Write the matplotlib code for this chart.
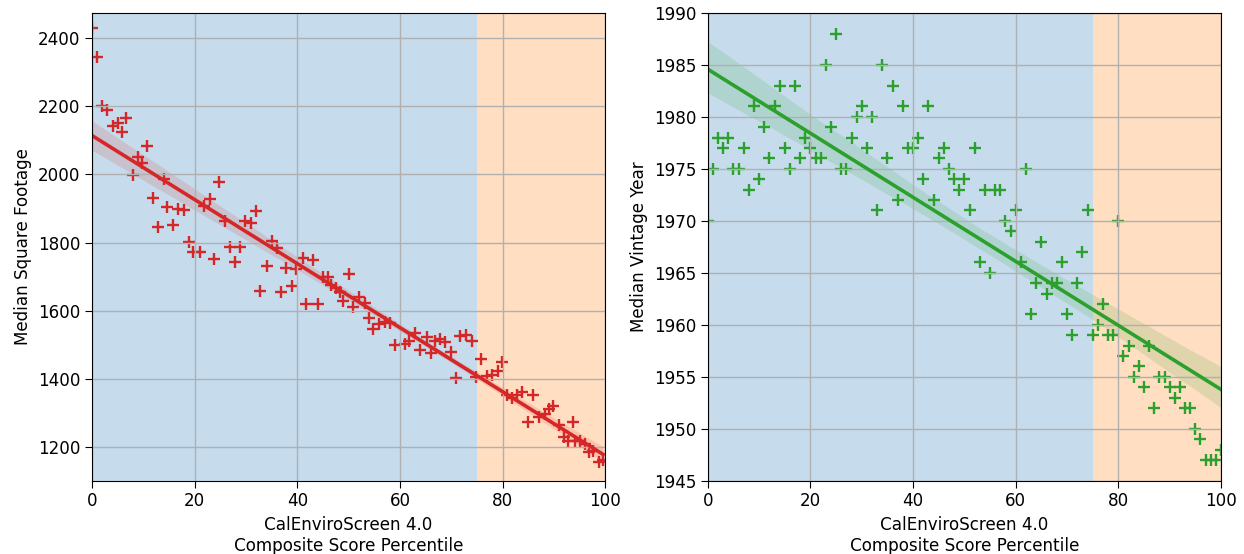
import matplotlib
matplotlib.use("Agg")
import matplotlib.pyplot as plt
import seaborn as sns
import pandas as pd

# --- Data ---
# Left panel: CES percentile vs median square footage
sqft_pct = [0, 1, 1.9, 2.9, 4.0, 5.1, 5.9, 6.7, 7.9, 8.9, 9.7, 10.8, 11.9, 12.9, 14.0, 14.7,
            15.8, 16.8, 18.0, 18.9, 19.6, 21.1, 21.9, 22.9, 23.8, 24.8, 26.0, 26.9, 27.9, 28.8,
            29.9, 31.0, 31.9, 32.7, 34.0, 35.0, 36.0, 36.8, 37.8, 38.9, 39.7, 41.1, 41.7, 43.0,
            44.0, 45.1, 45.9, 46.6, 47.6, 48.4, 49.0, 50.0, 50.9, 52.0, 53.2, 53.9, 54.8, 56.0,
            57.1, 58.1, 59.1, 60.9, 61.7, 62.9, 63.9, 65.2, 66.1, 66.9, 67.8, 68.8, 70.0, 70.9,
            71.7, 72.8, 74.0, 74.9, 75.8, 76.9, 78.0, 79.1, 79.9, 80.8, 81.9, 82.8, 83.7, 84.9,
            85.9, 87.1, 88.3, 89.1, 89.9, 90.9, 91.9, 92.8, 93.8, 94.2, 95.1, 96.1, 96.8, 97.7,
            98.7, 99.6]
sqft = [2429, 2346, 2201, 2189, 2141, 2151, 2125, 2167, 1998, 2052, 2034, 2084, 1930, 1847, 1988, 1903,
        1851, 1900, 1895, 1801, 1771, 1772, 1908, 1928, 1752, 1979, 1864, 1788, 1744, 1788,
        1862, 1858, 1894, 1659, 1730, 1805, 1783, 1654, 1725, 1673, 1721, 1754, 1619, 1748,
        1619, 1700, 1700, 1675, 1666, 1655, 1629, 1708, 1610, 1639, 1621, 1577, 1547, 1562,
        1568, 1565, 1500, 1503, 1511, 1533, 1485, 1523, 1477, 1512, 1518, 1507, 1478, 1402,
        1525, 1528, 1512, 1405, 1458, 1409, 1411, 1424, 1449, 1351, 1343, 1353, 1362, 1274,
        1351, 1287, 1297, 1311, 1319, 1263, 1228, 1218, 1272, 1218, 1216, 1209, 1184, 1189,
        1155, 1160]

# Right panel: CES percentile vs median vintage year
year_pct = list(range(0, 101))
vintage = [1970, 1975, 1978, 1977, 1978, 1975, 1975, 1977, 1973, 1981,
           1974, 1979, 1976, 1981, 1983, 1977, 1975, 1983, 1976, 1978,
           1977, 1976, 1976, 1985, 1979, 1988, 1975, 1975, 1978, 1980,
           1981, 1977, 1980, 1971, 1985, 1976, 1983, 1972, 1981, 1977,
           1977, 1978, 1974, 1981, 1972, 1976, 1977, 1975, 1974, 1973,
           1974, 1971, 1977, 1966, 1973, 1965, 1973, 1973, 1970, 1969,
           1971, 1966, 1975, 1961, 1964, 1968, 1963, 1964, 1964, 1966,
           1961, 1959, 1964, 1967, 1971, 1959, 1960, 1962, 1959, 1959,
           1970, 1957, 1958, 1955, 1956, 1954, 1958, 1952, 1955, 1955,
           1954, 1953, 1954, 1952, 1952, 1950, 1949, 1947, 1947, 1947,
           1948]

# percentile cut that splits the shaded regions
CUTOFF = 75

df_sqft = pd.DataFrame({'pct': sqft_pct, 'sqft': sqft})
df_year = pd.DataFrame({'pct': year_pct, 'year': vintage})

plt.rcParams['font.size'] = 12.1
plt.rcParams['xtick.major.size'] = 4.8
plt.rcParams['ytick.major.size'] = 4.8

fig = plt.figure(figsize=(12.44, 5.54), dpi=100)
ax1 = fig.add_axes([0.074, 0.132, 0.4125, 0.845])
ax2 = fig.add_axes([0.569, 0.132, 0.4125, 0.845])

panels = [
    (ax1, df_sqft, 'sqft', 'tab:red', 'Median Square Footage', (1100, 2475)),
    (ax2, df_year, 'year', 'tab:green', 'Median Vintage Year', (1945, 1990)),
]

for ax, data, col, color, ylabel, ylim in panels:
    # shaded percentile bands (below / above the cutoff)
    ax.axvspan(0, CUTOFF, color='tab:blue', alpha=0.25, lw=0)
    ax.axvspan(CUTOFF, 100, color='tab:orange', alpha=0.25, lw=0)
    sns.regplot(data=data, x='pct', y=col, ax=ax, color=color, marker='+', seed=0,
                scatter_kws={'s': 75, 'linewidths': 1.7, 'alpha': 1},
                line_kws={'lw': 2.6})
    ax.set_xlim(0, 100)
    ax.set_ylim(*ylim)
    ax.grid(True, color='#b0b0b0', lw=1.0)
    ax.set_xlabel('CalEnviroScreen 4.0\nComposite Score Percentile', labelpad=4)
    ax.set_ylabel(ylabel)

ax1.set_yticks(range(1200, 2401, 200))
ax2.set_yticks(range(1945, 1991, 5))

plt.savefig('out.png', dpi=100)
plt.close()
